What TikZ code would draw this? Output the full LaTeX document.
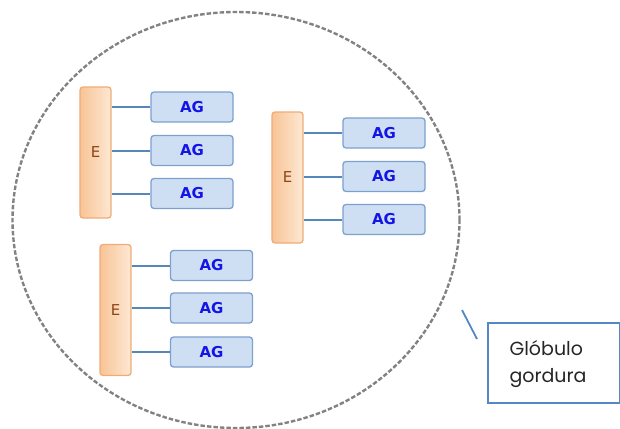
\documentclass[tikz,border=0pt]{standalone}
\usepackage{fontspec}
\setmainfont{DejaVu Sans}
\newfontfamily\calloutfont{Poppins}
\usetikzlibrary{shapes.geometric}
\definecolor{agfill}{RGB}{206,223,243}
\definecolor{agedge}{RGB}{125,160,205}
\definecolor{agtext}{RGB}{20,20,230}
\definecolor{efillL}{RGB}{248,196,150}
\definecolor{efillR}{RGB}{253,232,212}
\definecolor{eedge}{RGB}{240,172,120}
\definecolor{etext}{RGB}{140,70,25}
\definecolor{linkcol}{RGB}{85,135,185}
\definecolor{globe}{RGB}{130,130,130}
\definecolor{calloutedge}{RGB}{85,135,195}
\tikzset{
  agbox/.style={draw=agedge, line width=1.3pt, rounded corners=3pt,
    fill=agfill, minimum width=82pt, minimum height=30pt, inner sep=0pt,
    font=\fontsize{15}{17}\selectfont\bfseries, text=agtext},
  ebar/.style={draw=eedge, line width=1.3pt, rounded corners=3pt,
    left color=efillL, right color=efillR,
    minimum width=31pt, minimum height=131pt, inner sep=0pt,
    font=\fontsize{15}{17}\selectfont, text=etext},
  link/.style={draw=linkcol, line width=2pt},
}
\begin{document}
\begin{tikzpicture}[x=1pt, y=-1pt]
\useasboundingbox (0,0) rectangle (620,428);

% fat globule outline
\node[draw=globe, dash pattern=on 4.5pt off 2pt, line width=2.4pt, ellipse,
  minimum width=447pt, minimum height=416pt, inner sep=0pt] (glob) at (236,220) {};

% group 1
\node[ebar] (e1) at (95.5,152.5) {E};
\node[agbox] (a11) at (192,107) {AG};
\node[agbox] (a12) at (192,150.5) {AG};
\node[agbox] (a13) at (192,193.5) {AG};
% group 2
\node[ebar] (e2) at (287.5,177.5) {E};
\node[agbox] (a21) at (384,133) {AG};
\node[agbox] (a22) at (384,176.5) {AG};
\node[agbox] (a23) at (384,219.5) {AG};
% group 3
\node[ebar] (e3) at (115.5,310) {E};
\node[agbox] (a31) at (211.5,265.5) {AG};
\node[agbox] (a32) at (211.5,308) {AG};
\node[agbox] (a33) at (211.5,352) {AG};

\foreach \g in {1,2,3}{
  \foreach \k in {1,2,3}{
    \draw[link] (a\g\k.west) -- (a\g\k.west -| e\g.east);
  }
}

% callout
\node[draw=calloutedge, line width=2pt, minimum width=132pt, minimum height=80pt,
  inner sep=0pt] (callout) at (554,363) {};
\node[anchor=west, align=left, font=\calloutfont\fontsize{19}{27}\selectfont,
  text=black!85] (calltext) at (506,364) {Glóbulo\\gordura};
\coordinate (tipA) at (462,310);
\coordinate (tipB) at (477,339);
\draw[draw=calloutedge, line width=1.8pt] (tipA) -- (tipB);
\end{tikzpicture}
\end{document}
